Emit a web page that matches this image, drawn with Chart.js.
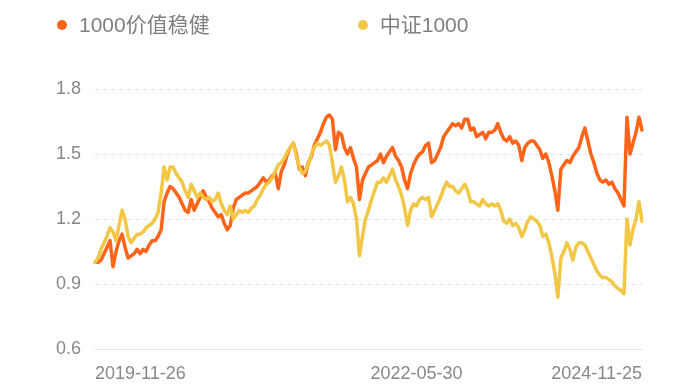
<!DOCTYPE html>
<html><head><meta charset="utf-8">
<script src="https://cdn.jsdelivr.net/npm/chart.js@4.4.1/dist/chart.umd.min.js"></script>
<style>
html,body{margin:0;padding:0;background:#fff;}
#wrap{position:relative;width:700px;height:385px;}
#c{position:absolute;left:0;top:0;}
#legend{position:absolute;left:57px;top:13px;display:flex;align-items:center;font-family:"Liberation Sans","Noto Sans CJK SC",sans-serif;font-size:21px;color:#808080;line-height:24px;white-space:nowrap;}
.item{display:flex;align-items:center;margin-right:148px;}
.dot{width:10px;height:10px;border-radius:50%;margin-right:12px;}
</style></head>
<body><div id="wrap"><canvas id="c" width="700" height="385"></canvas><div id="legend"></div></div>
<script>
const seriesNames = ['1000价值稳健', '中证1000'];
const seriesColors = ['#ff6418', '#f3c746'];

const value1000 = [
1.00,1.00,1.01,1.04,1.07,1.10,0.98,1.05,1.10,1.13,1.07,1.02,1.03,1.04,1.06,1.04,1.06,1.05,1.08,1.10,
1.10,1.12,1.15,1.28,1.32,1.35,1.34,1.32,1.30,1.27,1.24,1.23,1.29,1.24,1.27,1.30,1.33,1.30,1.28,1.25,
1.23,1.21,1.22,1.18,1.15,1.17,1.25,1.29,1.30,1.31,1.32,1.32,1.33,1.34,1.35,1.37,1.39,1.37,1.38,1.40,
1.41,1.34,1.42,1.45,1.50,1.53,1.55,1.50,1.43,1.44,1.40,1.46,1.49,1.54,1.57,1.60,1.64,1.67,1.68,1.66,
1.52,1.60,1.59,1.53,1.50,1.53,1.48,1.44,1.29,1.38,1.41,1.44,1.45,1.46,1.47,1.50,1.46,1.49,1.51,1.53,
1.49,1.47,1.44,1.38,1.34,1.41,1.45,1.48,1.50,1.51,1.54,1.55,1.46,1.47,1.50,1.53,1.58,1.60,1.62,1.64,
1.63,1.64,1.62,1.66,1.66,1.61,1.62,1.58,1.59,1.60,1.57,1.60,1.60,1.61,1.64,1.60,1.57,1.56,1.58,1.55,
1.56,1.54,1.47,1.53,1.55,1.56,1.56,1.54,1.52,1.48,1.50,1.46,1.40,1.33,1.24,1.43,1.45,1.47,1.46,1.49,
1.51,1.53,1.58,1.62,1.56,1.50,1.46,1.41,1.38,1.37,1.38,1.36,1.37,1.34,1.32,1.29,1.26,1.67,1.50,1.55,
1.60,1.67,1.61
];
const csi1000 = [
1.00,1.02,1.06,1.09,1.12,1.16,1.14,1.10,1.17,1.24,1.20,1.12,1.09,1.11,1.13,1.13,1.14,1.16,1.17,1.18,
1.20,1.23,1.32,1.44,1.38,1.44,1.44,1.41,1.39,1.37,1.33,1.30,1.36,1.33,1.30,1.32,1.30,1.29,1.30,1.28,
1.29,1.32,1.27,1.24,1.22,1.26,1.20,1.22,1.24,1.23,1.24,1.23,1.25,1.26,1.29,1.31,1.34,1.36,1.37,1.39,
1.42,1.45,1.46,1.48,1.51,1.53,1.55,1.49,1.44,1.41,1.42,1.45,1.50,1.53,1.55,1.54,1.55,1.56,1.54,1.46,
1.37,1.40,1.44,1.38,1.28,1.30,1.27,1.20,1.03,1.12,1.20,1.24,1.29,1.33,1.37,1.37,1.39,1.37,1.40,1.43,
1.38,1.35,1.31,1.25,1.17,1.24,1.27,1.26,1.29,1.30,1.29,1.30,1.21,1.24,1.27,1.30,1.34,1.37,1.35,1.35,
1.33,1.32,1.34,1.36,1.33,1.28,1.28,1.27,1.26,1.29,1.27,1.26,1.27,1.26,1.27,1.24,1.19,1.18,1.20,1.17,
1.18,1.16,1.12,1.15,1.19,1.21,1.20,1.19,1.17,1.12,1.13,1.09,1.03,0.95,0.84,1.02,1.05,1.09,1.06,1.01,
1.07,1.09,1.09,1.08,1.05,1.02,0.99,0.96,0.94,0.93,0.93,0.92,0.91,0.89,0.88,0.87,0.855,1.20,1.08,1.15,
1.20,1.28,1.19
];

const xTickLabels = ['2019-11-26', '2022-05-30', '2024-11-25'];
const xTickIndex = [0, 107, 182];
const yTickValues = [0.6, 0.9, 1.2, 1.5, 1.8];

const labels = value1000.map((_, i) => i);
const tickFont = {family: '"Liberation Sans","Noto Sans CJK SC",sans-serif', size: 18};
const tickColor = '#888888';

const chart = new Chart(document.getElementById('c'), {
  type: 'line',
  data: {
    labels: labels,
    datasets: [
      {label: seriesNames[0], data: value1000, borderColor: seriesColors[0], backgroundColor: seriesColors[0], order: 1},
      {label: seriesNames[1], data: csi1000, borderColor: seriesColors[1], backgroundColor: seriesColors[1], order: 0}
    ]
  },
  options: {
    responsive: false,
    animation: false,
    events: [],
    layout: {padding: {top: 89, right: 58, bottom: 0, left: 0}},
    elements: {
      point: {radius: 0},
      line: {borderWidth: 3.5, tension: 0, borderJoinStyle: 'round', borderCapStyle: 'round'}
    },
    plugins: {legend: {display: false}, tooltip: {enabled: false}},
    scales: {
      x: {
        type: 'category',
        offset: false,
        grid: {display: false, drawTicks: false},
        border: {display: true, color: '#e3e3e3', width: 1},
        afterBuildTicks: (s) => { s.ticks = xTickIndex.map(v => ({value: v})); },
        afterFit: (s) => { s.height = 36; },
        ticks: {
          autoSkip: false, maxRotation: 0, minRotation: 0, align: 'inner', padding: 14,
          font: tickFont, color: tickColor,
          callback: (v) => { const k = xTickIndex.indexOf(v); return k >= 0 ? xTickLabels[k] : ''; }
        }
      },
      y: {
        min: 0.6, max: 1.8,
        afterBuildTicks: (s) => { s.ticks = yTickValues.map(v => ({value: v})); },
        afterFit: (s) => { s.width = 95; },
        grid: {
          drawTicks: false, lineWidth: 1,
          color: (ctx) => (ctx.tick && ctx.tick.value === yTickValues[0]) ? 'rgba(0,0,0,0)' : '#e3e3e3'
        },
        border: {display: false, dash: [4, 4]},
        ticks: {padding: 14, font: tickFont, color: tickColor, callback: (v) => Number(v).toFixed(1)}
      }
    }
  }
});

const legendEl = document.getElementById('legend');
chart.data.datasets.forEach((ds) => {
  const item = document.createElement('div');
  item.className = 'item';
  const dot = document.createElement('span');
  dot.className = 'dot';
  dot.style.background = ds.borderColor;
  const txt = document.createElement('span');
  txt.textContent = ds.label;
  item.appendChild(dot); item.appendChild(txt);
  legendEl.appendChild(item);
});
</script>
</body></html>
